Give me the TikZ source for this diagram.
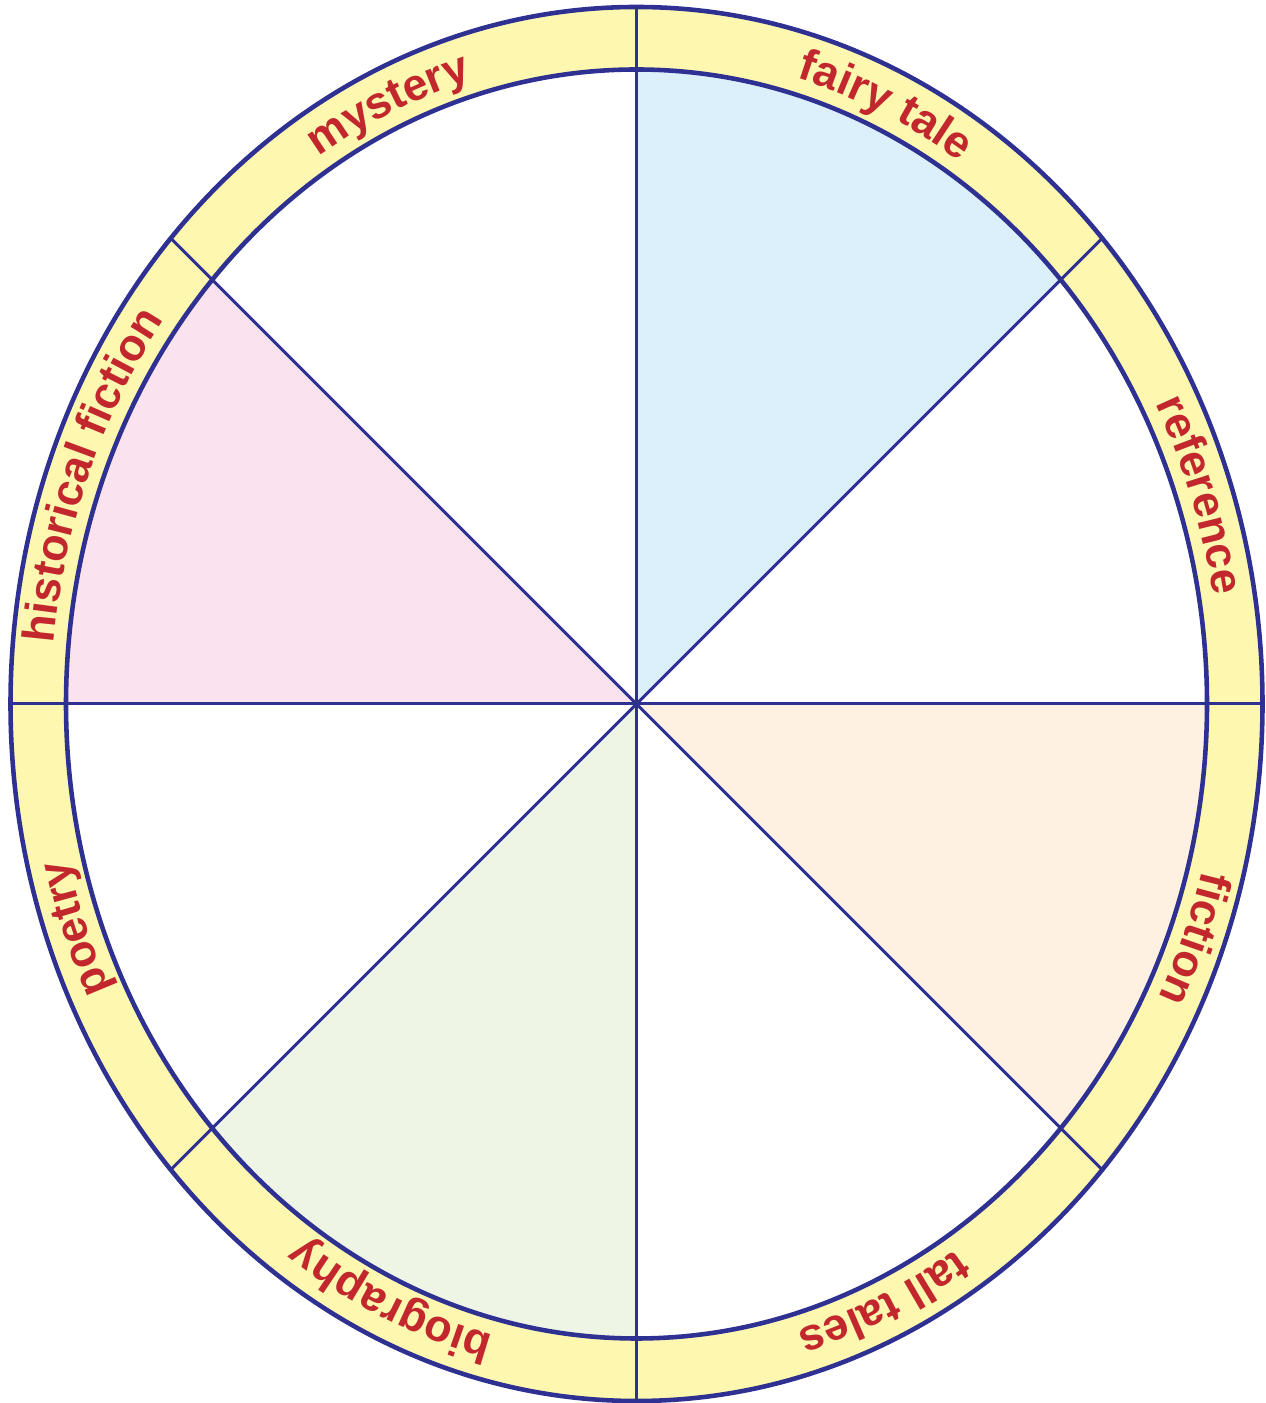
\documentclass[tikz,border=0pt]{standalone}
\usepackage{fontspec}
\setmainfont{Liberation Sans}
\usetikzlibrary{decorations.text}
\definecolor{ringyellow}{HTML}{FEF7AF}
\definecolor{navy}{HTML}{2E3192}
\definecolor{labred}{HTML}{C1272D}
\definecolor{secblue}{HTML}{DCF0FB}
\definecolor{secpink}{HTML}{FAE3EF}
\definecolor{secgreen}{HTML}{EFF5E5}
\definecolor{secorange}{HTML}{FEF1E1}
\newcommand\labfont{\fontsize{25.5}{30}\selectfont\bfseries}
\newcommand\ringlabel[2]{%
  \path[decorate,decoration={text along path,text={|\labfont|#2},text align=center,text color=labred}]
    ({585*cos(#1+45)},{651*sin(#1+45)}) arc[start angle={#1+45},end angle={#1-45},x radius=585,y radius=651];}
\tikzset{
  spoke/.style={navy,line width=1.7pt},
  rim/.style={navy,line width=2.6pt}
}
\begin{document}
\begin{tikzpicture}[x=0.02cm,y=0.02cm]
\useasboundingbox (0,0) rectangle (1265,1403);
\coordinate (C) at (636.5,699);
\begin{scope}[shift={(C)}]
  \fill[ringyellow] (0,0) ellipse[x radius=626,y radius=697];
  \fill[white] (0,0) ellipse[x radius=570.5,y radius=634.5];
  \begin{scope}
    \clip (0,0) ellipse[x radius=570.5,y radius=634.5];
    \fill[secblue] (0,0) -- (0,800) -- (800,800) -- cycle;
    \fill[secpink] (0,0) -- (-800,800) -- (-800,0) -- cycle;
    \fill[secgreen] (0,0) -- (-800,-800) -- (0,-800) -- cycle;
    \fill[secorange] (0,0) -- (800,0) -- (800,-800) -- cycle;
  \end{scope}
  \draw[spoke] (0,-697) -- (0,697);
  \draw[spoke] (-626,0) -- (626,0);
  \draw[spoke] (-465.7,-465.7) -- (465.7,465.7);
  \draw[spoke] (-465.7,465.7) -- (465.7,-465.7);
  \draw[rim] (0,0) ellipse[x radius=570.5,y radius=634.5];
  \draw[rim] (0,0) ellipse[x radius=626,y radius=697];
  \ringlabel{113.5}{mystery}
  \ringlabel{66.4}{fairy tale}
  \ringlabel{19.4}{reference}
  \ringlabel{-21.8}{fiction}
  \ringlabel{-66.6}{tall tales}
  \ringlabel{-113.4}{biography}
  \ringlabel{-159.2}{poetry}
  \ringlabel{158.4}{historical fiction}
\end{scope}
\end{tikzpicture}
\end{document}
